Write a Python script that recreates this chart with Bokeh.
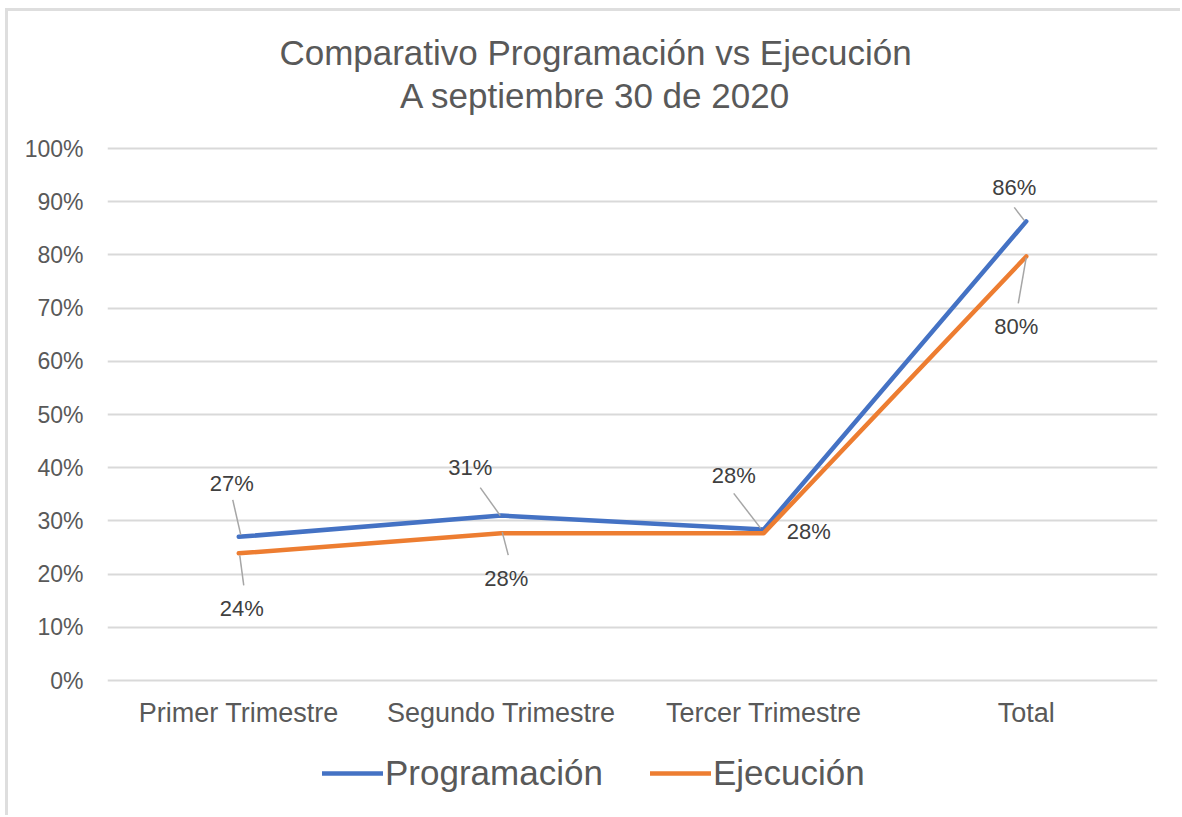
from bokeh.plotting import figure
from bokeh.models import (Range1d, ColumnDataSource, LabelSet, Label, Legend, LegendItem,
                          FixedTicker, PrintfTickFormatter)
from bokeh.core.properties import value
from bokeh.embed import file_html
from bokeh.resources import INLINE

# ---------------- data ----------------
categories = ["Primer Trimestre", "Segundo Trimestre", "Tercer Trimestre", "Total"]
programacion = [27.0, 31.0, 28.4, 86.3]
ejecucion = [23.9, 27.7, 27.7, 79.7]
y_ticks = [0, 10, 20, 30, 40, 50, 60, 70, 80, 90, 100]
series_names = ["Programación", "Ejecución"]
title_lines = ["Comparativo Programación vs Ejecución", "A septiembre 30 de 2020"]

# ---------------- layout constants (pixels) ----------------
W, H = 1180, 815
BL, BR = 107, 23
FW = W - BL - BR
PX_TOP100 = 148          # screen y of the 100% line
PX_ZERO = 680            # screen y of the 0% line
PPU = (PX_ZERO - PX_TOP100) / 100.0     # px per data unit (y)
Y_MAX = 100 + PX_TOP100 / PPU
Y_MIN = -(H - PX_ZERO) / PPU
XU = len(categories) / FW                # data units per px (x)
YU = 1.0 / PPU                           # data units per px (y)
TITLE_CX = (595 - BL) * XU               # title centre (page px -> x data)
LEGEND_BOTTOM = (H - PX_ZERO) - 113      # legend bottom above frame bottom, px

BLUE = "#4472C4"
ORANGE = "#ED7D31"
TXT = "#595959"
LBL = "#404040"
GRID = "#d9d9d9"
FONT = "Liberation Sans"

xs = [i + 0.5 for i in range(len(categories))]

p = figure(width=W, height=H, x_range=Range1d(0, len(categories)),
           y_range=Range1d(Y_MIN, Y_MAX), title=None, x_axis_location=None,
           output_backend="svg", toolbar_location=None,
           min_border_left=BL, min_border_right=BR, min_border_top=0, min_border_bottom=0)
p.outline_line_color = None
# transparent canvas so the light chart-area frame (drawn by CSS) shows through
p.background_fill_alpha = 0
p.border_fill_alpha = 0
p.styles = {"background-color": "white",
            "box-shadow": "inset 5px 8px 0 0 white, inset 8px 11px 0 0 #dedede"}

# title (two centred lines)
for line, up in zip(title_lines, [96, 53]):
    p.add_layout(Label(x=TITLE_CX, y=100, y_offset=up, text=line, text_align="center",
                       text_baseline="middle", text_font=FONT, text_font_size="35px",
                       text_color=TXT))

# y axis + grid
p.xgrid.grid_line_color = None
p.ygrid.grid_line_color = GRID
p.ygrid.grid_line_width = 2
ax = p.yaxis[0]
ax.ticker = FixedTicker(ticks=y_ticks)
ax.formatter = PrintfTickFormatter(format="%d%%")
ax.axis_line_color = None
ax.major_tick_line_color = None
ax.minor_tick_line_color = None
ax.major_tick_out = 0
ax.major_tick_in = 0
ax.major_label_text_font = FONT
ax.major_label_text_color = TXT
ax.major_label_text_font_size = "23px"
ax.major_label_standoff = 24

# category labels
cat_src = ColumnDataSource(dict(x=xs, y=[0] * len(xs), t=categories))
p.add_layout(LabelSet(x="x", y="y", text="t", source=cat_src, y_offset=-32,
                      text_align="center", text_baseline="middle", text_font=value(FONT),
                      text_font_size=value("27px"), text_color=TXT))

# lines
r_prog = p.line(xs, programacion, line_color=BLUE, line_width=4.5, line_join="round", line_cap="round")
r_ejec = p.line(xs, ejecucion, line_color=ORANGE, line_width=4.5, line_join="round", line_cap="round")

# data labels: pixel offsets (dx right, dy up) and leader lines (px relative to point)
prog_lab_off = [(-7, 53), (-31, 48), (-30, 54), (-12, 34)]
ejec_lab_off = [(3, -55), (5, -45), (45, 2), (-10, -70)]
prog_leader = [((2, 2), (-6, 37)), ((-1, 0), (-21, 28)), ((-3, 1), (-30, 36)), ((-2, 1), (-12, 14))]
ejec_leader = [((1, -2), (5, -32)), ((1, 1), (7, -22)), None, ((0, -1), (-8, -47))]


def add_labels(vals, offs, leaders):
    src = ColumnDataSource(dict(x=xs, y=vals, t=[f"{round(v)}%" for v in vals],
                                dx=[o[0] for o in offs], dy=[o[1] for o in offs]))
    for x, v, ld in zip(xs, vals, leaders):
        if ld is None:
            continue
        a, b = ld
        p.segment(x0=[x + a[0] * XU], y0=[v + a[1] * YU], x1=[x + b[0] * XU], y1=[v + b[1] * YU],
                  line_color="#a6a6a6", line_width=1.5)
    p.add_layout(LabelSet(x="x", y="y", text="t", source=src, x_offset="dx", y_offset="dy",
                          text_align="center", text_baseline="middle", text_font=value(FONT),
                          text_font_size=value("22px"), text_color=LBL))


add_labels(programacion, prog_lab_off, prog_leader)
add_labels(ejecucion, ejec_lab_off, ejec_leader)

# legend (bottom, inside the canvas area)
legend = Legend(items=[LegendItem(label=series_names[0], renderers=[r_prog]),
                       LegendItem(label=series_names[1], renderers=[r_ejec])],
                orientation="horizontal", location=(215, LEGEND_BOTTOM))
legend.border_line_color = None
legend.background_fill_alpha = 0
legend.padding = 0
legend.margin = 0
legend.glyph_width = 61
legend.glyph_height = 40
legend.label_height = 40
legend.label_standoff = 2
legend.spacing = 47
legend.label_text_font = FONT
legend.label_text_font_size = "35px"
legend.label_text_color = TXT
p.add_layout(legend, "center")

open("out.html", "w").write(file_html(p, INLINE))
